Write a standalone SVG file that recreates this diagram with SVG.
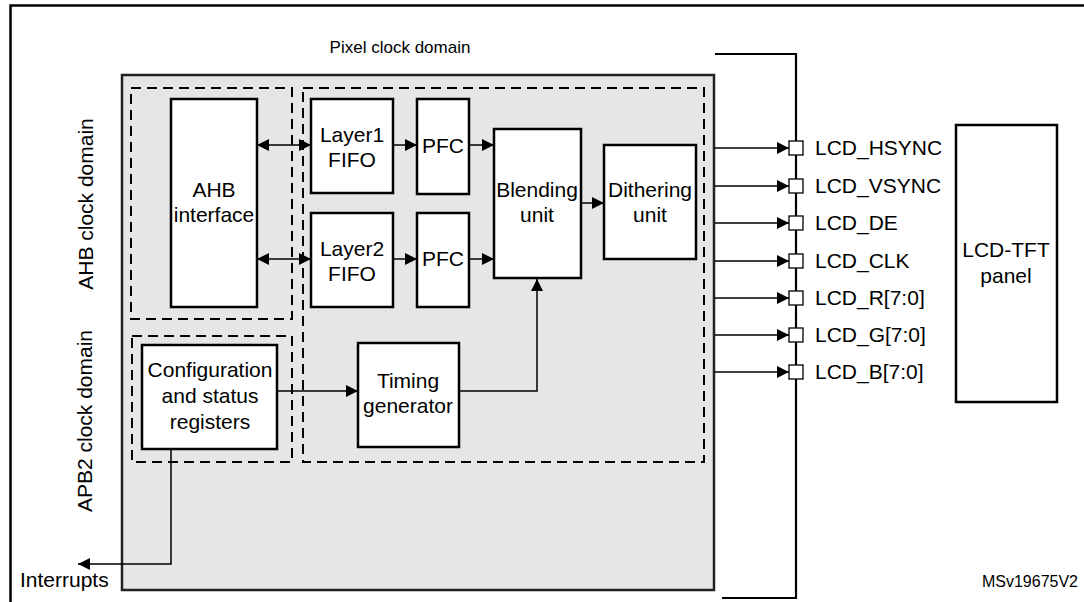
<svg xmlns="http://www.w3.org/2000/svg" width="1084" height="602" viewBox="0 0 1084 602">
<style>
text{font-family:"Liberation Sans",Arial,sans-serif;font-size:21px;fill:#000}
.c{text-anchor:middle}
.box{fill:#fff;stroke:#000;stroke-width:2.5}
.dash{fill:none;stroke:#000;stroke-width:2;stroke-dasharray:10 6}
.ln{fill:none;stroke:#000;stroke-width:1.5}
.pin{fill:#fff;stroke:#000;stroke-width:1.3}
</style>
<defs>
<marker id="ah" viewBox="0 0 10 10" refX="10" refY="5" markerWidth="14" markerHeight="12" markerUnits="userSpaceOnUse" orient="auto-start-reverse">
<path d="M0,0 L10,5 L0,10 z" fill="#000"/>
</marker>
</defs>
<rect width="1084" height="602" fill="#fff"/>
<g id="frame">
<path d="M10.5,602 V5.5 H1084" fill="none" stroke="#000" stroke-width="2.5"/>
</g>
<g id="pixel-domain">
<text x="400" y="53" class="c" style="font-size:17px">Pixel clock domain</text>
</g>
<g id="ltdc">
<rect x="122" y="75" width="592" height="515" fill="#e6e6e6" stroke="#222" stroke-width="2.5"/>
<rect x="131" y="88" width="161" height="231" class="dash"/>
<rect x="303" y="88" width="401" height="374" class="dash"/>
<rect x="132" y="336" width="160" height="126" class="dash"/>
</g>
<g id="ahb-domain"><text transform="translate(93,204) rotate(-90)" class="c">AHB clock domain</text></g>
<g id="apb2-domain"><text transform="translate(92,421) rotate(-90)" class="c">APB2 clock domain</text></g>
<g id="ahb-if"><rect x="171" y="99" width="86" height="208" class="box"/><text x="214" y="197" class="c">AHB</text><text x="214" y="222" class="c">interface</text></g>
<g id="layer1"><rect x="311" y="99" width="82" height="94" class="box"/><text x="352" y="142" class="c">Layer1</text><text x="352" y="167" class="c">FIFO</text></g>
<g id="layer2"><rect x="311" y="213" width="82" height="94" class="box"/><text x="352" y="256" class="c">Layer2</text><text x="352" y="281" class="c">FIFO</text></g>
<g id="pfc1"><rect x="417" y="99" width="52" height="95" class="box"/><text x="443" y="153" class="c">PFC</text></g>
<g id="pfc2"><rect x="417" y="213" width="52" height="94" class="box"/><text x="443" y="266" class="c">PFC</text></g>
<g id="blending"><rect x="494" y="129" width="87" height="149" class="box"/><text x="537" y="197" class="c">Blending</text><text x="537" y="222" class="c">unit</text></g>
<g id="dithering"><rect x="604" y="145" width="92" height="114" class="box"/><text x="650" y="197" class="c">Dithering</text><text x="650" y="222" class="c">unit</text></g>
<g id="timing"><rect x="358" y="343" width="101" height="104" class="box"/><text x="408" y="388" class="c">Timing</text><text x="408" y="413" class="c">generator</text></g>
<g id="config"><rect x="142" y="345" width="135" height="104" class="box"/><text x="210" y="377" class="c">Configuration</text><text x="210" y="403" class="c">and status</text><text x="210" y="429" class="c">registers</text></g>
<g id="interrupts"><text x="20" y="587">Interrupts</text></g>
<g id="lcd-panel"><rect x="956" y="125" width="101" height="277" class="box"/><text x="1006" y="257" class="c">LCD-TFT</text><text x="1006" y="283" class="c">panel</text></g>
<g id="bus">
<path d="M715,54 H796 V598 H722" fill="none" stroke="#000" stroke-width="2.2"/>
</g>
<g id="pins">
<rect x="789" y="141" width="14" height="14" class="pin"/>
<rect x="789" y="179" width="14" height="14" class="pin"/>
<rect x="789" y="216" width="14" height="14" class="pin"/>
<rect x="789" y="254" width="14" height="14" class="pin"/>
<rect x="789" y="291" width="14" height="14" class="pin"/>
<rect x="789" y="328" width="14" height="14" class="pin"/>
<rect x="789" y="365" width="14" height="14" class="pin"/>
<text x="815" y="155">LCD_HSYNC</text>
<text x="815" y="193">LCD_VSYNC</text>
<text x="815" y="230">LCD_DE</text>
<text x="815" y="268">LCD_CLK</text>
<text x="815" y="305">LCD_R[7:0]</text>
<text x="815" y="342">LCD_G[7:0]</text>
<text x="815" y="379">LCD_B[7:0]</text>
</g>
<g id="connectors">
<line x1="257" y1="145" x2="311" y2="145" class="ln" marker-start="url(#ah)" marker-end="url(#ah)"/>
<line x1="257" y1="259" x2="311" y2="259" class="ln" marker-start="url(#ah)" marker-end="url(#ah)"/>
<line x1="393" y1="145" x2="417" y2="145" class="ln" marker-end="url(#ah)"/>
<line x1="393" y1="259" x2="417" y2="259" class="ln" marker-end="url(#ah)"/>
<line x1="469" y1="145" x2="494" y2="145" class="ln" marker-end="url(#ah)"/>
<line x1="469" y1="259" x2="494" y2="259" class="ln" marker-end="url(#ah)"/>
<line x1="581" y1="203" x2="604" y2="203" class="ln" marker-end="url(#ah)"/>
<line x1="277" y1="391" x2="358" y2="391" class="ln" marker-end="url(#ah)"/>
<path d="M459,391 H537 V279" class="ln" marker-end="url(#ah)"/>
<path d="M171,449 V564 H78" class="ln" marker-end="url(#ah)"/>
<line x1="715" y1="148" x2="789" y2="148" class="ln" marker-end="url(#ah)"/>
<line x1="715" y1="186" x2="789" y2="186" class="ln" marker-end="url(#ah)"/>
<line x1="715" y1="223" x2="789" y2="223" class="ln" marker-end="url(#ah)"/>
<line x1="715" y1="261" x2="789" y2="261" class="ln" marker-end="url(#ah)"/>
<line x1="715" y1="298" x2="789" y2="298" class="ln" marker-end="url(#ah)"/>
<line x1="715" y1="335" x2="789" y2="335" class="ln" marker-end="url(#ah)"/>
<line x1="715" y1="372" x2="789" y2="372" class="ln" marker-end="url(#ah)"/>
</g>
<g id="ref"><text x="1078" y="587" style="font-size:16px;text-anchor:end">MSv19675V2</text></g>
</svg>
